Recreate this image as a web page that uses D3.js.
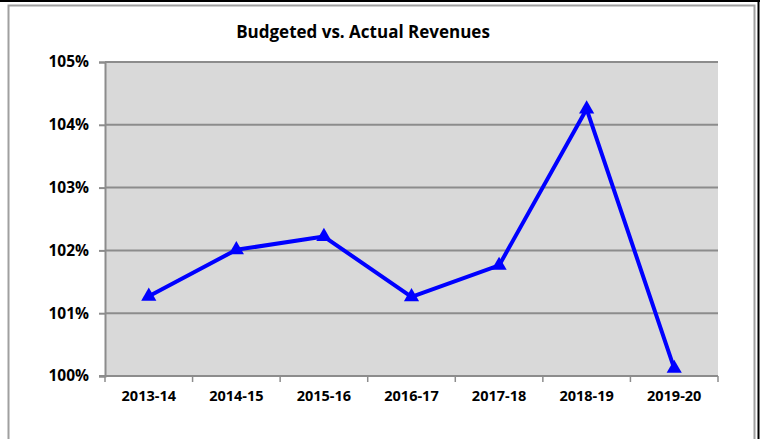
<!DOCTYPE html>
<html>
<head>
<meta charset="utf-8">
<script src="https://cdn.jsdelivr.net/npm/d3@7"></script>
<style>
  html, body { margin: 0; padding: 0; background: #fff; }
  svg { display: block; font-family: "Open Sans", "DejaVu Sans", sans-serif; }
</style>
</head>
<body>
<svg></svg>
<script>
const width = 760;
const height = 439;
const svg = d3.select("svg").attr("width", width).attr("height", height);

// data
const years = ["2013-14", "2014-15", "2015-16", "2016-17", "2017-18", "2018-19", "2019-20"];
const ratios = [1.0127, 1.0201, 1.0222, 1.0126, 1.0176, 1.0425, 1.0012];
const yTicks = [1.00, 1.01, 1.02, 1.03, 1.04, 1.05];

const plot = { left: 105, right: 718, top: 62, bottom: 376 };

// outer frame
svg.append("line").attr("x1", 0).attr("x2", width).attr("y1", 1).attr("y2", 1)
    .attr("stroke", "#000").attr("stroke-width", 2);
svg.append("line").attr("x1", 758.5).attr("x2", 758.5).attr("y1", 0).attr("y2", height)
    .attr("stroke", "#000").attr("stroke-width", 2);
svg.append("path")
    .attr("d", `M8.5,${height} V5.5 H754.5 V${height}`)
    .attr("fill", "none").attr("stroke", "#a0a0a0").attr("stroke-width", 2);

// title
svg.append("text")
    .attr("x", 363).attr("y", 38)
    .attr("text-anchor", "middle")
    .attr("font-size", "17px").attr("font-weight", "bold")
    .text("Budgeted vs. Actual Revenues");

const x = d3.scaleBand().domain(years).range([plot.left, plot.right]);
const y = d3.scaleLinear().domain([1.00, 1.05]).range([plot.bottom, plot.top]);

svg.append("rect")
    .attr("x", plot.left).attr("y", plot.top)
    .attr("width", plot.right - plot.left).attr("height", plot.bottom - plot.top)
    .attr("fill", "#d9d9d9");

// gridlines
svg.append("g").selectAll("line")
    .data(yTicks)
    .enter().append("line")
    .attr("x1", plot.left).attr("x2", plot.right)
    .attr("y1", d => y(d)).attr("y2", d => y(d))
    .attr("stroke", "#8c8c8c").attr("stroke-width", 2);

// y axis
const yAxis = svg.append("g")
    .attr("transform", `translate(${plot.left},0)`)
    .call(d3.axisLeft(y).tickValues(yTicks).tickFormat(d3.format(".0%")).tickSize(6).tickPadding(10));
yAxis.select(".domain").attr("stroke", "#8c8c8c").attr("stroke-width", 2);
yAxis.selectAll(".tick line").attr("stroke", "#8c8c8c").attr("stroke-width", 2);
yAxis.selectAll("text").attr("font-size", "15.5px").attr("font-weight", "bold")
    .attr("fill", "#000").attr("font-family", "\"Open Sans\", sans-serif");

// x axis, ticks at category boundaries
const xAxis = svg.append("g")
    .attr("transform", `translate(0,${plot.bottom})`);
xAxis.append("line")
    .attr("x1", plot.left - 6).attr("x2", plot.right)
    .attr("stroke", "#8c8c8c").attr("stroke-width", 2);
xAxis.selectAll("line.tk")
    .data(years.concat(["end"]))
    .enter().append("line")
    .attr("class", "tk")
    .attr("x1", (d, i) => i < years.length ? x(d) : plot.right)
    .attr("x2", (d, i) => i < years.length ? x(d) : plot.right)
    .attr("y1", 0).attr("y2", 6)
    .attr("stroke", "#8c8c8c").attr("stroke-width", 1.5);
xAxis.selectAll("text")
    .data(years)
    .enter().append("text")
    .attr("x", d => x(d) + x.bandwidth() / 2)
    .attr("y", 25)
    .attr("text-anchor", "middle")
    .attr("font-size", "14.5px").attr("font-weight", "bold")
    .text(d => d);

// line + markers
const pts = years.map((d, i) => [x(d) + x.bandwidth() / 2, y(ratios[i])]);
svg.append("path")
    .datum(pts)
    .attr("d", d3.line())
    .attr("fill", "none")
    .attr("stroke", "#0000ff")
    .attr("stroke-width", 4)
    .attr("stroke-linejoin", "round");

const tri = d3.symbol().type(d3.symbolTriangle).size(100);
svg.append("g").selectAll("path")
    .data(pts)
    .enter().append("path")
    .attr("transform", d => `translate(${d[0]},${d[1]})`)
    .attr("d", tri)
    .attr("fill", "#0000ff");
</script>
</body>
</html>
